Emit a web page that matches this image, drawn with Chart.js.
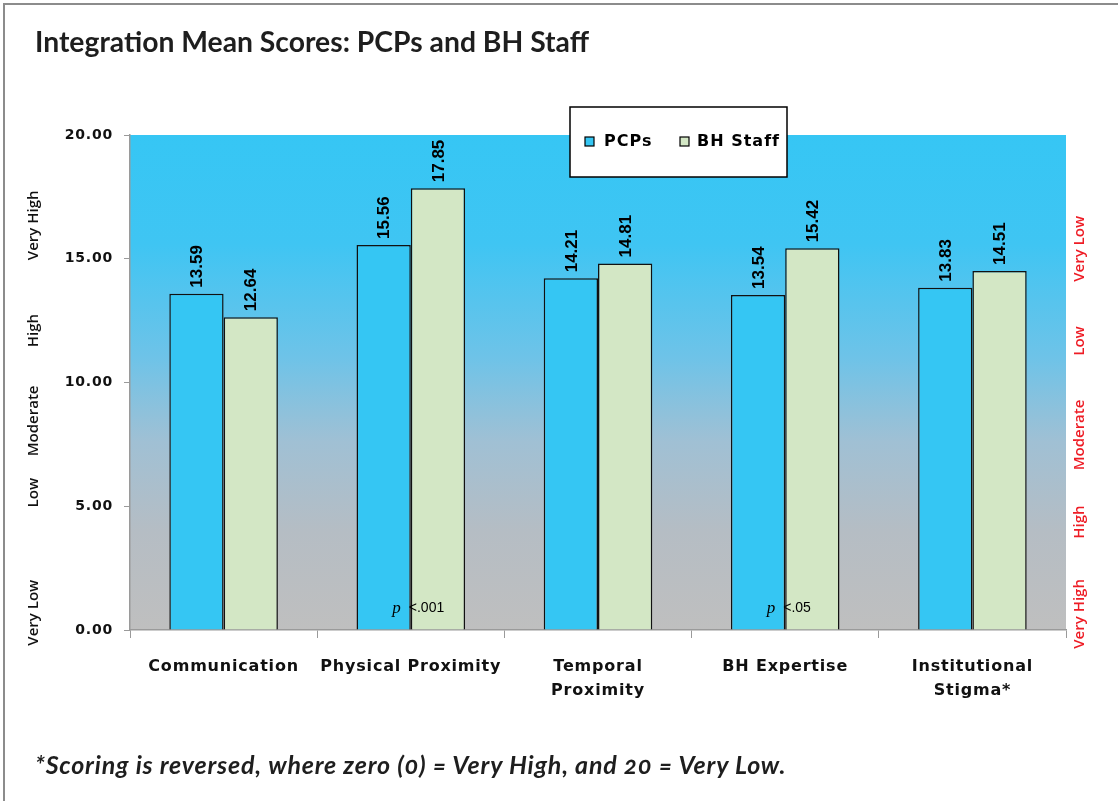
<!DOCTYPE html>
<html>
<head>
<meta charset="utf-8">
<script src="https://cdn.jsdelivr.net/npm/chart.js@4.4.1/dist/chart.umd.min.js"></script>
<style>
  html, body { margin:0; padding:0; background:#fff; }
  #wrap { position:relative; width:1118px; height:801px; overflow:hidden; }
  #frame { position:absolute; left:3px; top:3px; width:1115px; height:798px; border-left:2px solid #8c8c8c; border-top:2px solid #8c8c8c; box-sizing:border-box; pointer-events:none; }
  #title { position:absolute; left:35px; top:24px; font-family:Lato, sans-serif; font-weight:700; font-size:28.3px; color:#1e1e1e; white-space:nowrap; }
  #note { position:absolute; left:35px; top:749px; font-family:Lato, sans-serif; font-weight:700; font-style:italic; font-size:25px; letter-spacing:0.8px; color:#1e1e1e; white-space:nowrap; font-variant-numeric: oldstyle-nums; }
  canvas { position:absolute; left:0; top:0; }
</style>
</head>
<body>
<div id="wrap">
  <canvas id="c" width="1118" height="801"></canvas>
  <div id="title">Integration Mean Scores: PCPs and BH Staff</div>
  <div id="note">*Scoring is reversed, where zero (0) = Very High, and 20 = Very Low.</div>
  <div id="frame"></div>
</div>
<script>
const categories = [["Communication"], ["Physical Proximity"], ["Temporal", "Proximity"], ["BH Expertise"], ["Institutional", "Stigma*"]];
const seriesNames = ["PCPs", "BH Staff"];
const pcpValues = [13.59, 15.56, 14.21, 13.54, 13.83];
const bhValues = [12.64, 17.85, 14.81, 15.42, 14.51];
const pNotes = ["", "<.001", "", "<.05", ""];
const leftLevels = ["Very High", "High", "Moderate", "Low", "Very Low"];
const rightLevels = ["Very Low", "Low", "Moderate", "High", "Very High"];
const yTicks = [0, 5, 10, 15, 20];

const BLUE = "#35C6F3";
const GREEN = "#D3E7C5";

const bgPlugin = {
  id: "bg",
  beforeDraw(chart) {
    const {ctx, chartArea: a} = chart;
    const g = ctx.createLinearGradient(0, a.top, 0, a.bottom);
    g.addColorStop(0, "#36C6F4");
    g.addColorStop(0.22, "#3FC5F3");
    g.addColorStop(0.45, "#6EC3E8");
    g.addColorStop(0.62, "#A0C0D4");
    g.addColorStop(0.8, "#B5BDC4");
    g.addColorStop(1, "#BFBFBF");
    ctx.save();
    ctx.fillStyle = g;
    ctx.fillRect(a.left, a.top, a.right - a.left, a.bottom - a.top);
    ctx.restore();
    // wider tracking for axis texts, like the original
    ctx.letterSpacing = "0.8px";
  }
};

const labelPlugin = {
  id: "labels",
  afterDatasetsDraw(chart) {
    const ctx = chart.ctx;
    ctx.save();
    ctx.letterSpacing = "0px";
    ctx.font = "bold 17px 'Liberation Sans', Arial, sans-serif";
    ctx.fillStyle = "#000";
    ctx.textAlign = "left";
    ctx.textBaseline = "middle";
    chart.data.datasets.forEach((ds, di) => {
      chart.getDatasetMeta(di).data.forEach((el, i) => {
        ctx.save();
        ctx.translate(el.x, el.y - 6);
        ctx.rotate(-Math.PI / 2);
        ctx.fillText(ds.data[i].toFixed(2), 0, 1);
        ctx.restore();
      });
    });
    const xs = chart.scales.x, ys = chart.scales.y;
    pNotes.forEach((t, i) => {
      if (!t) return;
      const cx = xs.getPixelForValue(i);
      const y = ys.getPixelForValue(0.9);
      ctx.textBaseline = "middle";
      ctx.font = "italic 17px 'Liberation Serif', serif";
      ctx.textAlign = "right";
      ctx.fillText("p", cx - 10, y + 1);
      ctx.font = "14px 'Liberation Sans Narrow', 'Liberation Sans', Arial, sans-serif";
      ctx.textAlign = "left";
      ctx.fillText(t, cx - 2, y);
    });
    ctx.restore();
  },
  afterDraw(chart) {
    const ctx = chart.ctx;
    const ys = chart.scales.y;
    const leftPos = [16.35, 12.1, 8.45, 5.55, 0.7];
    const rightPos = [15.4, 11.68, 7.88, 4.36, 0.65];
    ctx.save();
    ctx.letterSpacing = "0px";
    ctx.font = "600 15px 'Open Sans', sans-serif";
    ctx.textAlign = "center";
    ctx.textBaseline = "middle";
    ctx.fillStyle = "#111";
    leftLevels.forEach((t, i) => {
      ctx.save();
      ctx.translate(34, ys.getPixelForValue(leftPos[i]));
      ctx.rotate(-Math.PI / 2);
      ctx.fillText(t, 0, 0);
      ctx.restore();
    });
    ctx.fillStyle = "#EE1C25";
    rightLevels.forEach((t, i) => {
      ctx.save();
      ctx.translate(1080, ys.getPixelForValue(rightPos[i]));
      ctx.rotate(-Math.PI / 2);
      ctx.fillText(t, 0, 0);
      ctx.restore();
    });
    // legend box
    const lx = 570, ly = 107, lw = 217, lh = 70;
    ctx.fillStyle = "#fff";
    ctx.fillRect(lx, ly, lw, lh);
    ctx.strokeStyle = "#000";
    ctx.lineWidth = 1.5;
    ctx.strokeRect(lx, ly, lw, lh);
    const items = [[585, 604], [680, 697]];
    ctx.font = "bold 16px 'DejaVu Sans', sans-serif";
    ctx.letterSpacing = "1px";
    ctx.textAlign = "left";
    ctx.textBaseline = "middle";
    chart.data.datasets.forEach((ds, i) => {
      const [sx, tx] = items[i];
      ctx.fillStyle = ds.backgroundColor;
      ctx.fillRect(sx, 137, 9, 9);
      ctx.lineWidth = 1.2;
      ctx.strokeStyle = "#000";
      ctx.strokeRect(sx, 137, 9, 9);
      ctx.fillStyle = "#000";
      ctx.fillText(ds.label, tx, 142);
    });
    ctx.restore();
    ctx.letterSpacing = "0px";
  }
};

new Chart(document.getElementById("c"), {
  type: "bar",
  data: {
    labels: categories,
    datasets: [
      { label: seriesNames[0], data: pcpValues, backgroundColor: BLUE, borderColor: "#111", borderWidth: 1.5 },
      { label: seriesNames[1], data: bhValues, backgroundColor: GREEN, borderColor: "#111", borderWidth: 1.5 }
    ]
  },
  options: {
    responsive: false,
    animation: false,
    layout: { padding: { top: 135, right: 52, left: 0, bottom: 0 } },
    plugins: { legend: { display: false }, tooltip: { enabled: false } },
    datasets: { bar: { categoryPercentage: 0.58, barPercentage: 1.0 } },
    scales: {
      y: {
        min: 0, max: 20,
        afterBuildTicks: s => { s.ticks = yTicks.map(v => ({ value: v })); },
        ticks: {
          callback: v => Number(v).toFixed(2),
          font: { family: "'DejaVu Sans', sans-serif", weight: "bold", size: 14 },
          color: "#111",
          padding: 11
        },
        grid: { drawOnChartArea: false, tickLength: 6, color: "#9a9a9a" },
        border: { color: "#9a9a9a", width: 1.5 },
        afterFit: s => { s.width = 130; }
      },
      x: {
        ticks: {
          font: { family: "'DejaVu Sans', sans-serif", weight: "bold", size: 16, lineHeight: 1.5 },
          color: "#111",
          padding: 17,
          maxRotation: 0, autoSkip: false
        },
        grid: { drawOnChartArea: false, tickLength: 8, color: "#9a9a9a", offset: true },
        border: { color: "#9a9a9a", width: 1.5 },
        afterFit: s => { s.height = 171; }
      }
    }
  },
  plugins: [bgPlugin, labelPlugin]
});
</script>
</body>
</html>
